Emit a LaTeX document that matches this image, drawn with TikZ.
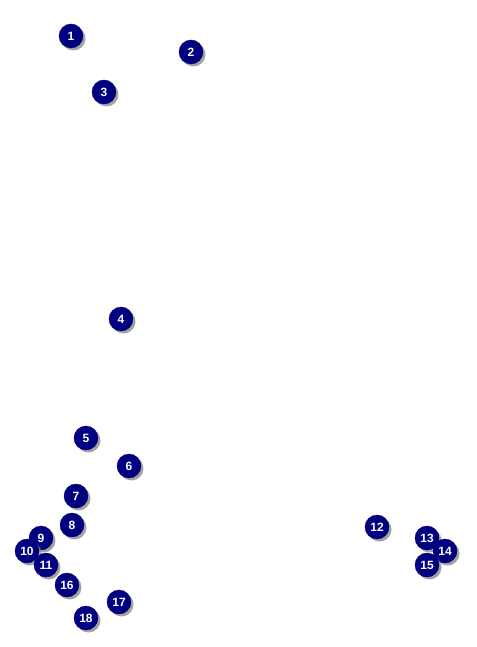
\documentclass[tikz,border=0pt]{standalone}
\usepackage{fontspec}
\setmainfont{Liberation Sans}
\usetikzlibrary{shadows}
\definecolor{dotblue}{RGB}{0,0,128}
\tikzset{marker/.style={circle, fill=dotblue, draw=dotblue!80!black, inner sep=0pt,
  minimum size=24pt, text=white, font=\fontsize{12}{12}\selectfont\bfseries,
  drop shadow={shadow xshift=2.5pt, shadow yshift=-2.5pt, fill=black!45, opacity=0.8}}}
\begin{document}
\begin{tikzpicture}[x=1pt, y=-1pt]
\useasboundingbox (0,0) rectangle (476,647);
\foreach \n/\px/\py in {1/71/36, 2/191/52, 3/104/92, 4/121/319, 5/86/438, 6/129/466,
  7/76/496, 8/72/525, 9/41/538, 10/27/551, 11/46/565, 12/377/527, 13/427/538,
  14/445/551, 15/427/565, 16/67/585, 17/119/602, 18/86/618}
  \node[marker] (m\n) at (\px,\py) {\n};
\end{tikzpicture}
\end{document}
